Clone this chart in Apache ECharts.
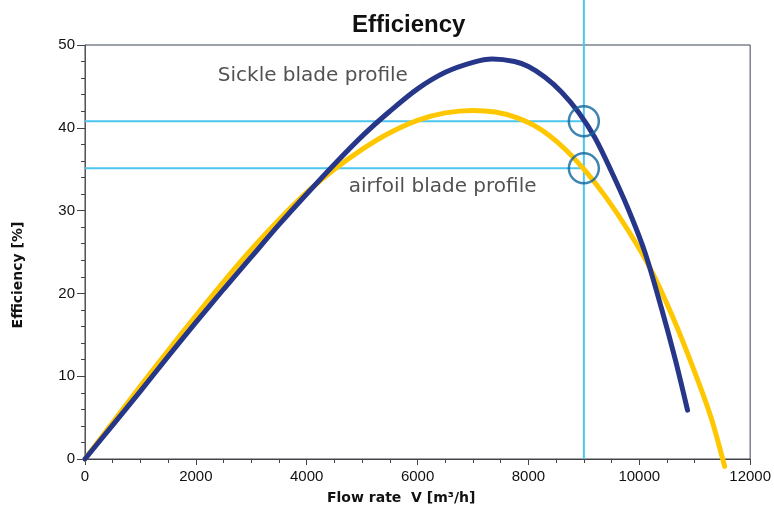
<!DOCTYPE html>
<html>
<head>
<meta charset="utf-8">
<script src="https://cdn.jsdelivr.net/npm/echarts@6/dist/echarts.min.js"></script>
<style>html,body{margin:0;padding:0;background:#fff;}#c{width:774px;height:509px;}</style>
</head>
<body>
<div id="c"></div>
<script>
// Sickle blade profile (blue): flow rate [m3/h], efficiency [%]
const sickleFlow = [0, 500, 1000, 1500, 2000, 2500, 3000, 3500, 4000, 4500, 5000, 5500, 6000, 6500, 7000, 7350, 7750, 8000, 8300, 8600, 8900, 9200, 9500, 9800, 10100, 10400, 10650, 10870];
const sickleEff  = [0, 4.1, 8.2, 12.4, 16.5, 20.5, 24.4, 28.3, 32.0, 35.6, 39.0, 42.0, 44.7, 46.7, 47.9, 48.3, 48.0, 47.4, 46.1, 44.3, 41.9, 38.8, 34.7, 30.2, 25.0, 18.2, 12.0, 5.9];
// Airfoil blade profile (yellow)
const airfoilFlow = [0, 500, 1000, 1500, 2000, 2500, 3000, 3500, 4000, 4500, 5000, 5500, 6000, 6500, 7000, 7400, 7800, 8200, 8600, 9000, 9400, 9800, 10200, 10600, 11000, 11300, 11540];
const airfoilEff  = [0, 4.4, 8.8, 13.1, 17.3, 21.4, 25.3, 28.9, 32.2, 35.0, 37.4, 39.4, 40.9, 41.8, 42.1, 41.9, 41.2, 39.9, 37.8, 35.0, 31.6, 27.6, 23.0, 17.2, 10.5, 4.9, -0.9];
// Reference lines at the operating point
const opFlow = 9000;
const opEff = [40.8, 35.1];
const vLineTop = 55.5;
// Axis setup
const xTicks = {min: 0, max: 12000, interval: 2000};
const yTicks = {min: 0, max: 50, interval: 10};
// Text annotations [flow, efficiency, text]
const notes = [[2396, 46.3, 'Sickle blade profile'], [4757, 32.9, 'airfoil blade profile']];

const zip = (a, b) => a.map((v, i) => [v, b[i]]);
const chart = echarts.init(document.getElementById('c'), null, {renderer: 'canvas'});
const cyan = '#4cc6ef';
const hLines = opEff.map(e => ({
  type: 'line', data: [[0, e], [opFlow, e]], symbol: 'none', silent: true,
  lineStyle: {color: cyan, width: 2}, z: 1
}));
chart.setOption({
  animation: false,
  backgroundColor: '#fff',
  title: {
    text: 'Efficiency', left: 347, top: 8,
    textStyle: {fontFamily: 'Liberation Sans, Arial', fontWeight: 'bold', fontSize: 24, color: '#111'}
  },
  grid: {left: 85, right: 23, top: 45, bottom: 50, show: true, borderColor: '#3b4254', borderWidth: 1},
  xAxis: {
    type: 'value', min: xTicks.min, max: xTicks.max, interval: xTicks.interval,
    axisLine: {show: true, onZero: false, lineStyle: {color: '#444', width: 1}},
    axisTick: {show: true, length: 6, lineStyle: {color: '#444'}},
    minorTick: {show: true, splitNumber: 4, length: 4, lineStyle: {color: '#444'}},
    splitLine: {show: false},
    axisLabel: {fontFamily: 'Liberation Sans, Arial', fontSize: 15, color: '#111', margin: 10,
      formatter: v => String(v)}
  },
  yAxis: {
    type: 'value', min: yTicks.min, max: yTicks.max, interval: yTicks.interval,
    axisLine: {show: true, onZero: false, lineStyle: {color: '#555', width: 1}},
    axisTick: {show: true, length: 8, lineStyle: {color: '#444'}},
    minorTick: {show: true, splitNumber: 5, length: 4, lineStyle: {color: '#444'}},
    splitLine: {show: false},
    axisLabel: {fontFamily: 'Liberation Sans, Arial', fontSize: 15, color: '#111', margin: 10,
      formatter: v => String(v)}
  },
  graphic: [
    {type: 'text', left: 327, top: 491, style: {text: 'Flow rate  V [m³/h]', font: 'bold 14px "DejaVu Sans"', fill: '#111'}},
    {type: 'text', x: 11, y: 275, rotation: Math.PI / 2, style: {text: 'Efficiency [%]', font: 'bold 14px "DejaVu Sans"', fill: '#111', align: 'center', verticalAlign: 'top'}}
  ],
  series: [
    ...hLines,
    {type: 'line', data: [[opFlow, 0], [opFlow, vLineTop]], symbol: 'none', silent: true, clip: false,
     lineStyle: {color: cyan, width: 2}, z: 1},
    {type: 'line', name: 'airfoil', data: zip(airfoilFlow, airfoilEff), symbol: 'none', smooth: 0.3, clip: false,
     lineStyle: {color: '#ffc700', width: 5, cap: 'round'}, z: 3},
    {type: 'line', name: 'sickle', data: zip(sickleFlow, sickleEff), symbol: 'none', smooth: 0.3, clip: false,
     lineStyle: {color: '#263689', width: 5, cap: 'round'}, z: 4},
    {type: 'scatter', data: opEff.map(e => [opFlow, e]), symbol: 'circle', symbolSize: 30, silent: true,
     itemStyle: {color: 'rgba(0,0,0,0)', borderColor: '#0f679b', borderWidth: 2.5}, z: 5},
    {type: 'scatter', data: notes.map(n => [n[0], n[1]]), symbolSize: 0, silent: true, z: 6,
     label: {show: true, position: 'right', distance: 0, formatter: p => notes[p.dataIndex][2],
       fontFamily: 'DejaVu Sans', fontSize: 20, color: '#262626'}}
  ]
});
</script>
</body>
</html>
